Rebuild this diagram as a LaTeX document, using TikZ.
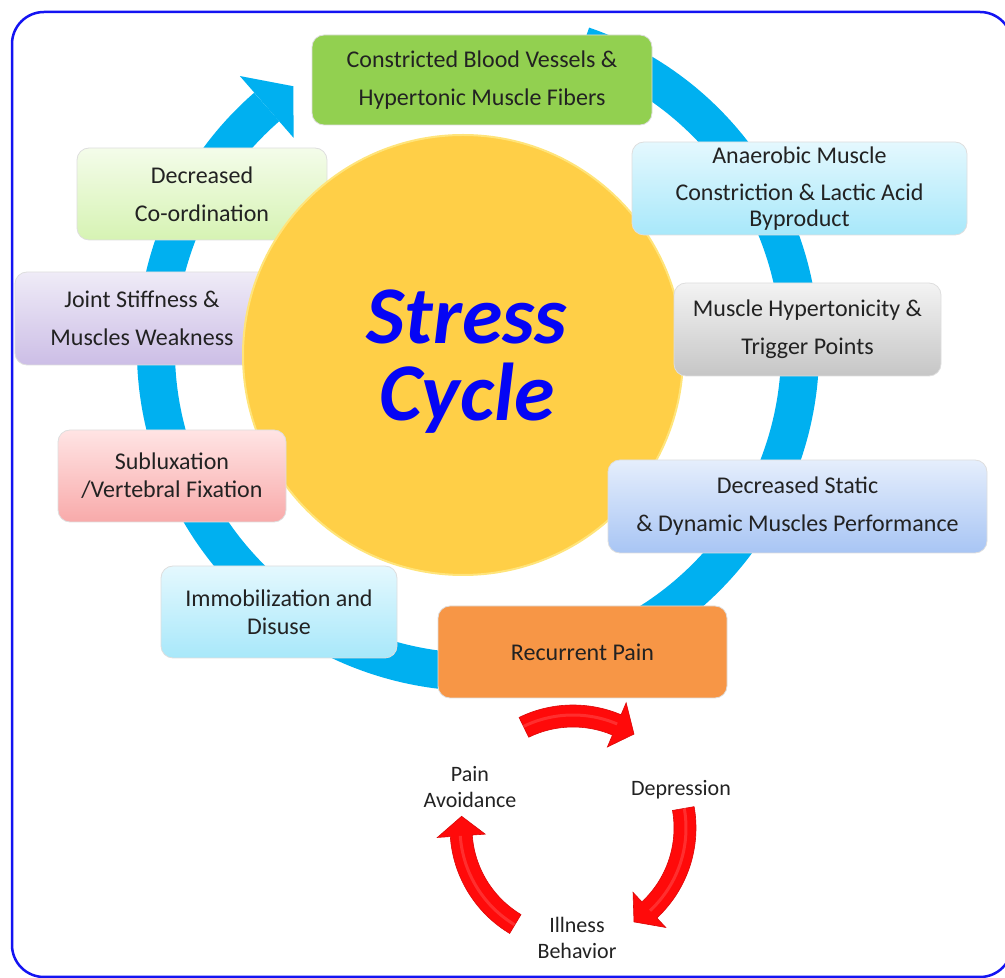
\documentclass[tikz,border=0pt]{standalone}
\usepackage{fontspec}
\setmainfont{Carlito}
\usetikzlibrary{calc}
\definecolor{framblue}{HTML}{1414F2}
\definecolor{ringblue}{HTML}{00B0F0}
\definecolor{sungold}{HTML}{FFCF47}
\definecolor{sunrim}{HTML}{FFE47A}
\definecolor{titleblue}{HTML}{0505F5}
\definecolor{textgray}{HTML}{222222}
\definecolor{arrowred}{HTML}{FF0A0A}
\definecolor{leafgreen}{HTML}{92D050}
\definecolor{painorange}{HTML}{F79646}
\definecolor{lavtop}{HTML}{EFEBF7}
\definecolor{lavbot}{HTML}{CCBEE6}
\definecolor{lgtop}{HTML}{F4FCEA}
\definecolor{lgbot}{HTML}{D6F3B3}
\definecolor{aquatop}{HTML}{E4F8FE}
\definecolor{aquabot}{HTML}{A8E8FA}
\definecolor{greytop}{HTML}{F3F3F3}
\definecolor{greybot}{HTML}{C6C6C6}
\definecolor{skytop}{HTML}{E5EEFC}
\definecolor{skybot}{HTML}{A8C5F4}
\definecolor{pinktop}{HTML}{FFE4E4}
\definecolor{pinkbot}{HTML}{F8AAAA}
\newcommand{\bentarrow}[3]{%
  \filldraw[redarrow] ($(pc)+(#1:123)$) arc[start angle=#1,end angle=#2,radius=123]
    -- ($(pc)+(#2:136)$) -- ($(pc)+(#3:112)$) -- ($(pc)+(#2:88)$)
    -- ($(pc)+(#2:101)$) arc[start angle=#2,end angle=#1,radius=101] -- cycle;
  \draw[white,opacity=0.15,line width=3pt] ($(pc)+(#1:113)$) arc[start angle=#1,end angle=#2,radius=113];}

\begin{document}
\begin{tikzpicture}[x=1pt,y=1pt,
    box/.style={draw=black!13,line width=0.8pt,rounded corners=12pt,align=center,text=textgray,
      inner sep=0pt,font=\fontsize{24}{38}\selectfont},
    tight/.style={font=\fontsize{24}{28}\selectfont},
    cyc/.style={align=center,text=textgray,inner sep=0pt,font=\fontsize{22}{25.5}\selectfont},
    redarrow/.style={fill=arrowred,draw=arrowred!85!black,line width=0.6pt}]
  \useasboundingbox (0,0) rectangle (1005,978);
  % frame
  \draw[framblue,line width=2.5pt,rounded corners=32pt] (12,1) rectangle (1012,966);
  % big ring with its head
  \coordinate (rc) at (478,628);
  \draw[ringblue,line width=38pt] ($(rc)+(71:322)$) arc[start angle=71,end angle=-229,radius=322];
  \fill[ringblue] ($(rc)+(131:363)$) -- ($(rc)+(125:322)$) -- ($(rc)+(131:281)$) -- cycle;
  % boxes under the circle
  \node[box,top color=lavtop,bottom color=lavbot,minimum width=254pt,minimum height=93pt] (jsw) at (142,659.5) {Joint Stiffness \&\\Muscles Weakness};
  \node[box,top color=lgtop,bottom color=lgbot,minimum width=250pt,minimum height=92pt] (dco) at (202,784) {Decreased\\Co-ordination};
  % centre
  \node[circle,fill=sungold,draw=sunrim,line width=2pt,minimum size=440pt,inner sep=0pt] (sun) at (463,623) {};
  \node[align=center,text=titleblue,inner sep=0pt,font=\fontsize{82}{77}\selectfont\bfseries\itshape] (title) at (467,616) {Stress\\Cycle};
  % boxes round the ring
  \node[box,fill=leafgreen,minimum width=340pt,minimum height=90pt] (cbv) at (482,898) {Constricted Blood Vessels \&\\Hypertonic Muscle Fibers};
  \node[box,top color=aquatop,bottom color=aquabot,minimum width=335pt,minimum height=93pt,font=\fontsize{24}{26}\selectfont] (ana) at (799.5,789.5) {Anaerobic Muscle\\[11pt]Constriction \& Lactic Acid\\Byproduct};
  \node[box,top color=greytop,bottom color=greybot,minimum width=267pt,minimum height=93pt] (mht) at (807.5,648.5) {Muscle Hypertonicity \&\\Trigger Points};
  \node[box,top color=skytop,bottom color=skybot,minimum width=379pt,minimum height=93pt] (dsd) at (797.5,471.5) {Decreased Static\\\& Dynamic Muscles Performance};
  \node[box,fill=painorange,minimum width=289pt,minimum height=92pt] (rp) at (582.5,326) {Recurrent Pain};
  \node[box,tight,top color=aquatop,bottom color=aquabot,minimum width=236pt,minimum height=92pt] (imm) at (279,366) {Immobilization and\\Disuse};
  \node[box,tight,top color=pinktop,bottom color=pinkbot,minimum width=228pt,minimum height=92pt] (sub) at (172,502) {Subluxation\\/Vertebral Fixation};
  % small cycle
  \coordinate (pc) at (573,150);
  \bentarrow{116}{67}{57}
  \bentarrow{10}{-47}{-57}
  \bentarrow{-121}{-176}{-186}
  \node[cyc] (pav) at (470,191) {Pain\\Avoidance};
  \node[cyc] (dep) at (681,188) {Depression};
  \node[cyc] (ill) at (577,40) {Illness\\Behavior};
\end{tikzpicture}
\end{document}
